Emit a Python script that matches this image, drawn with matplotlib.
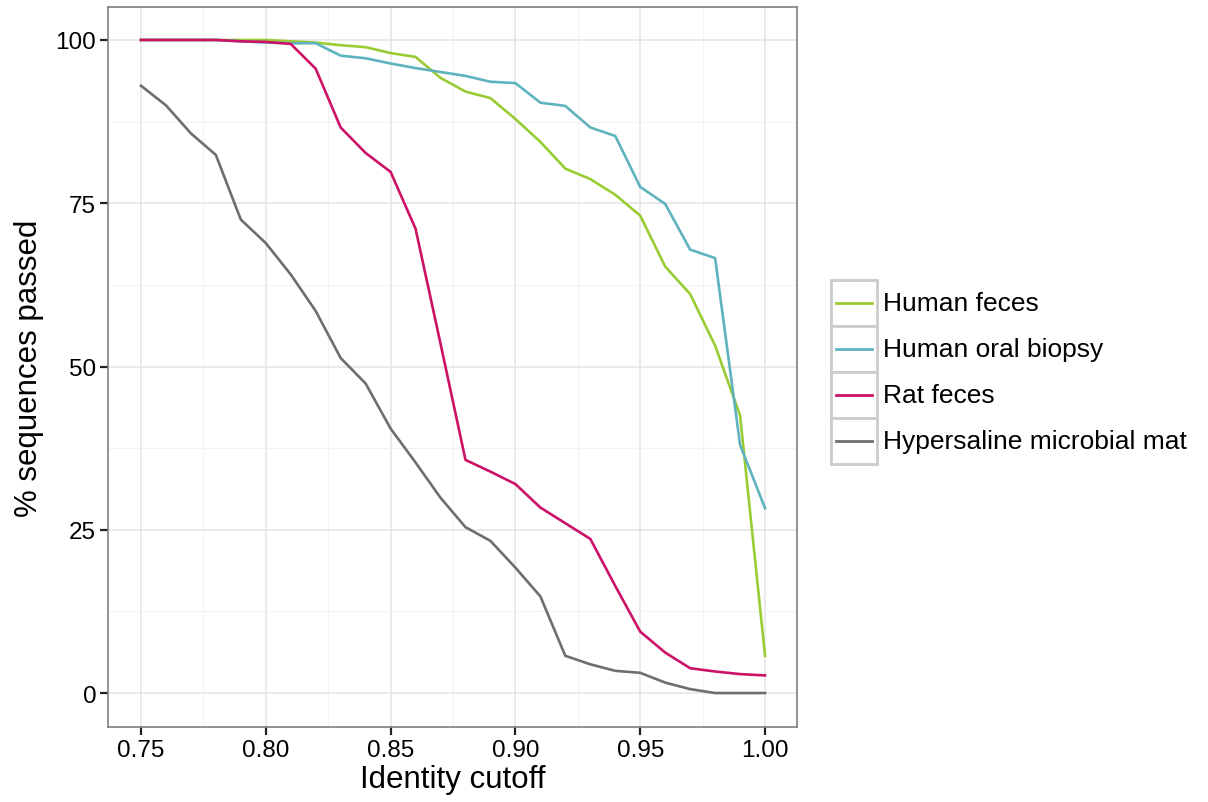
import numpy as np
import matplotlib
matplotlib.use("Agg")
import matplotlib.pyplot as plt
from matplotlib.patches import Rectangle
from matplotlib.lines import Line2D

cutoff = [0.75, 0.76, 0.77, 0.78, 0.79, 0.80, 0.81, 0.82, 0.83, 0.84, 0.85, 0.86, 0.87,
          0.88, 0.89, 0.90, 0.91, 0.92, 0.93, 0.94, 0.95, 0.96, 0.97, 0.98, 0.99, 1.00]

human_feces = [100, 100, 100, 100, 100, 100, 99.8, 99.6, 99.2, 98.9, 98.0, 97.4, 94.2,
               92.1, 91.1, 87.9, 84.4, 80.3, 78.7, 76.3, 73.1, 65.3, 61.1, 53.2, 42.5, 5.7]
human_oral = [100, 100, 100, 100, 99.8, 99.6, 99.5, 99.5, 97.6, 97.2, 96.4, 95.7, 95.1,
              94.5, 93.6, 93.4, 90.4, 89.9, 86.6, 85.3, 77.5, 74.9, 67.9, 66.6, 38.0, 28.3]
rat_feces = [100, 100, 100, 100, 99.8, 99.7, 99.4, 95.6, 86.6, 82.7, 79.8, 71.1, 53.5,
             35.7, 33.9, 32.0, 28.4, 26.0, 23.6, 16.4, 9.4, 6.2, 3.8, 3.3, 2.9, 2.7]
hypersaline = [93.0, 90.0, 85.7, 82.4, 72.5, 68.9, 64.1, 58.5, 51.3, 47.4, 40.5, 35.3, 29.9,
               25.4, 23.3, 19.2, 14.8, 5.7, 4.4, 3.4, 3.1, 1.6, 0.6, 0, 0, 0]

nombres = ["Human feces", "Human oral biopsy", "Rat feces", "Hypersaline microbial mat"]
series = [human_feces, human_oral, rat_feces, hypersaline]
colores = ["#99CC33", "#5FB3BE", "#CC1166", "#6E6E6E"]

plt.rcParams["font.family"] = ["Liberation Sans", "DejaVu Sans"]

W, H = 1208, 803
fig = plt.figure(figsize=(W / 100, H / 100), dpi=100)
ax = fig.add_axes([108 / W, 1 - 728 / H, (797 - 108) / W, (728 - 8) / H])

for y, c in zip(series, colores):
    ax.plot(cutoff, y, color=c, lw=1.9, solid_joinstyle="round")

ax.set_xlim(0.7368, 1.0128)
ax.set_ylim(-5.2, 105.05)
ax.set_xticks([0.75, 0.80, 0.85, 0.90, 0.95, 1.00])
ax.set_xticklabels(["0.75", "0.80", "0.85", "0.90", "0.95", "1.00"])
ax.set_yticks([0, 25, 50, 75, 100])
ax.set_xticks([0.775, 0.825, 0.875, 0.925, 0.975], minor=True)
ax.set_yticks([12.5, 37.5, 62.5, 87.5], minor=True)
ax.grid(which="major", color="#E6E6E6", lw=1.2)
ax.grid(which="minor", color="#F2F2F2", lw=0.8)
ax.set_axisbelow(True)
ax.tick_params(which="major", length=5.5, width=1.6, color="#222222", labelsize=17.5,
               labelcolor="black", pad=3)
ax.tick_params(which="minor", length=0)
for s in ax.spines.values():
    s.set_color("#7F7F7F")
    s.set_linewidth(1.2)

ax.set_xlabel("Identity cutoff", fontsize=22.5, labelpad=2)
ax.set_ylabel("% sequences passed", fontsize=22.5, labelpad=8)

# leyenda estilo ggplot
for i, (n, c) in enumerate(zip(nombres, colores)):
    y0 = 281 + 46 * i
    fig.add_artist(Rectangle((831 / W, 1 - (y0 + 46) / H), 46 / W, 46 / H,
                             transform=fig.transFigure, facecolor="white",
                             edgecolor="#CCCCCC", lw=2))
    yc = 1 - (y0 + 23) / H
    fig.add_artist(Line2D([836 / W, 872 / W], [yc, yc], transform=fig.transFigure,
                          color=c, lw=2))
    fig.text(883 / W, yc, n, fontsize=19, va="center", ha="left")

fig.savefig("out.png", dpi=100)
